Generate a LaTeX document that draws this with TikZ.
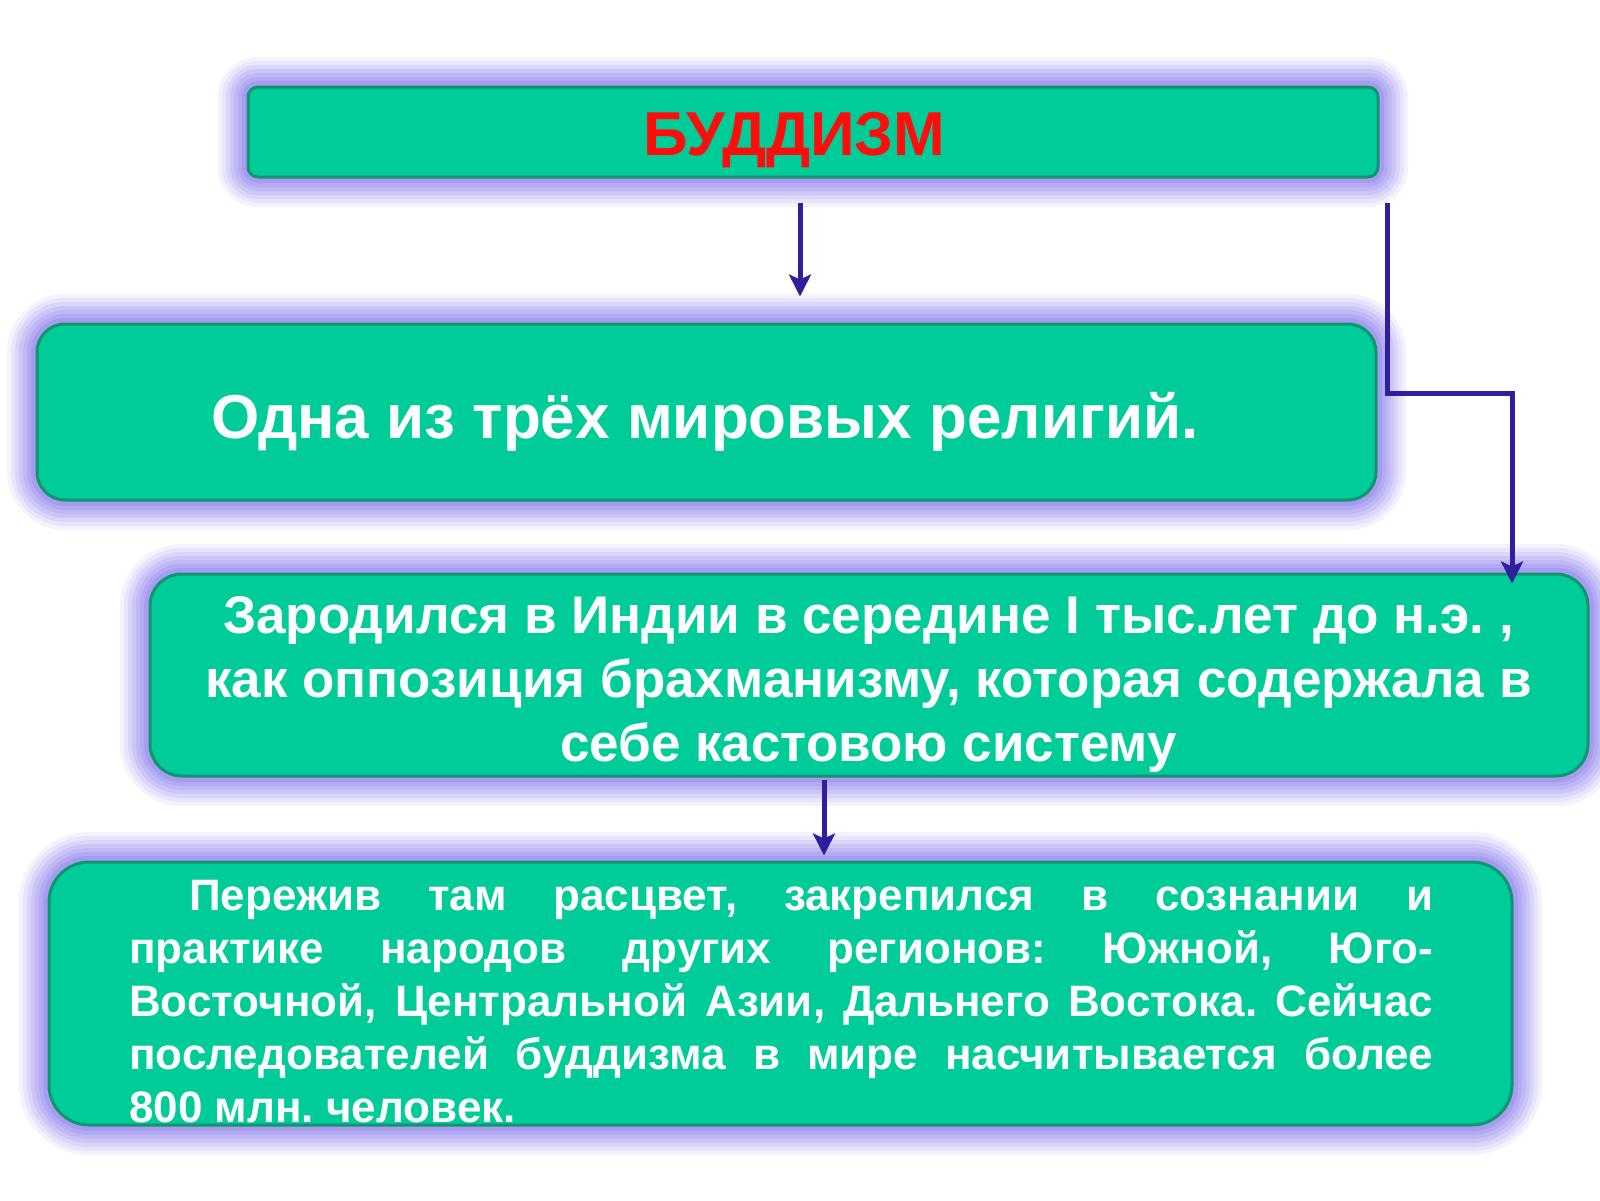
\documentclass[tikz,border=0pt]{standalone}
\usepackage{fontspec}
\setmainfont{Liberation Sans}
\usetikzlibrary{arrows.meta, positioning, calc}
\frenchspacing

\definecolor{panelfill}{HTML}{00CC99}
\definecolor{panelline}{HTML}{12956F}
\definecolor{glowc}{HTML}{5A48E8}
\definecolor{linkc}{HTML}{2E1F9E}
\definecolor{titlered}{HTML}{FF0D0D}

\begin{document}
\begin{tikzpicture}[
    x=1pt, y=-1pt,
    >=Stealth,
    panel/.style={
      rectangle,
      draw=panelline,
      line width=3pt,
      fill=panelfill,
      preaction={draw=glowc, line width=60pt, draw opacity=0.07},
      preaction={draw=glowc, line width=52pt, draw opacity=0.08},
      preaction={draw=glowc, line width=44pt, draw opacity=0.09},
      preaction={draw=glowc, line width=36pt, draw opacity=0.1},
      preaction={draw=glowc, line width=28pt, draw opacity=0.11},
      preaction={draw=glowc, line width=20pt, draw opacity=0.12},
      preaction={draw=glowc, line width=12pt, draw opacity=0.14}
    },
    headline/.style={font=\fontsize{62}{72}\selectfont\bfseries, text=titlered, inner sep=0pt},
    bigtext/.style={font=\fontsize{62}{72}\selectfont\bfseries, text=white, inner sep=0pt},
    midtext/.style={font=\fontsize{53}{64}\selectfont\bfseries, text=white, inner sep=0pt, align=center},
    smalltext/.style={font=\fontsize{44}{53}\selectfont\bfseries, text=white, inner sep=0pt},
    link/.style={draw=linkc, line width=5pt, -{Stealth[length=22pt, width=22pt, inset=5pt]}}
]

% Поле рисунка
\path[fill=white, use as bounding box] (0,0) rectangle (1600,1200);

% Блоки
\node[panel, rounded corners=10pt, minimum width=1130pt, minimum height=90pt] (title) at (813,132) {};
\node[panel, rounded corners=28pt, minimum width=1339pt, minimum height=176pt] (world) at (706.5,412) {};
\node[panel, rounded corners=32pt, minimum width=1438pt, minimum height=202pt] (origin) at (869,675) {};
\node[panel, rounded corners=40pt, minimum width=1463pt, minimum height=263pt] (spread) at (780.5,993.5) {};

% Тексты блоков
\node[headline, anchor=base] (title-text) at (794.5,155) {БУДДИЗМ};
\node[bigtext, anchor=base] (world-text) at (705,438) {Одна из трёх мировых религий.};
\node[midtext, anchor=base] (origin-text) at (868.5,761)
  {Зародился в Индии в середине I тыс.лет до н.э. ,\\
   как оппозиция брахманизму, которая содержала в\\
   себе кастовою систему};
\node[smalltext, anchor=base west, text width=1304pt, align=justify] (spread-text) at (129,910)
  {\hyphenpenalty=10000\hspace*{60pt}Пережив там расцвет, закрепился в сознании и\linebreak
   практике народов других регионов: Южной, Юго-\linebreak
   Восточной, Центральной Азии, Дальнего Востока. Сейчас\linebreak
   последователей буддизма в мире насчитывается более\linebreak
   800 млн. человек.};

% Стрелки
\coordinate (stem) at ($(title.south)+(-13,0)$);
\coordinate (drop) at ($(origin.south)+(-45,0)$);
\coordinate (bend) at (1512,393);

\draw[link, shorten <=24pt, shorten >=26pt] (stem) -- (stem |- world.north);
\draw[link, shorten <=24pt] ($(title.south east)+(8,0)$) |- (bend) -- ($(bend |- origin.north)+(0,11)$);
\draw[link, shorten <=2pt, shorten >=5pt] (drop) -- (drop |- spread.north);

\end{tikzpicture}
\end{document}
